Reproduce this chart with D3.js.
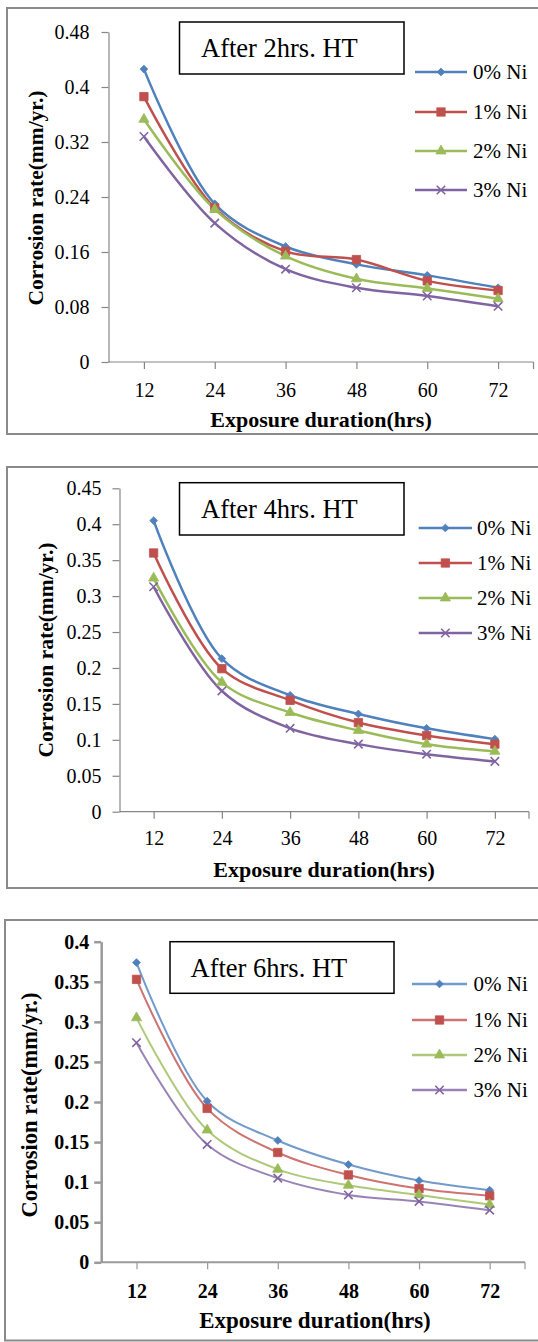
<!DOCTYPE html>
<html>
<head>
<meta charset="utf-8">
<script src="https://cdn.jsdelivr.net/npm/d3@7"></script>
<style>
  body { margin: 0; background: #fff; }
  svg { display: block; }
  text { font-family: "Liberation Serif", "Tinos", "Times New Roman", "DejaVu Serif", serif; fill: #000; }
</style>
</head>
<body>
<svg id="chart" width="538" height="1342"></svg>
<script>
// exposure duration (hrs) on the x axis
const hours = [12, 24, 36, 48, 60, 72];
const seriesNames = ["0% Ni", "1% Ni", "2% Ni", "3% Ni"];
const seriesColors = ["#4F81BD", "#C0504D", "#9BBB59", "#8064A2"];

// corrosion rate (mm/yr.), one row per Ni content
const rate2hrs = [
  [0.426, 0.230, 0.168, 0.142, 0.126, 0.108],
  [0.386, 0.224, 0.161, 0.149, 0.118, 0.104],
  [0.353, 0.222, 0.154, 0.121, 0.107, 0.092],
  [0.328, 0.202, 0.135, 0.108, 0.096, 0.081]
];
const rate4hrs = [
  [0.405, 0.213, 0.162, 0.136, 0.116, 0.101],
  [0.360, 0.199, 0.155, 0.124, 0.106, 0.094],
  [0.325, 0.180, 0.138, 0.113, 0.094, 0.084],
  [0.313, 0.168, 0.116, 0.094, 0.080, 0.070]
];
const rate6hrs = [
  [0.374, 0.201, 0.152, 0.122, 0.102, 0.090],
  [0.353, 0.192, 0.137, 0.109, 0.092, 0.083],
  [0.305, 0.165, 0.116, 0.096, 0.084, 0.072],
  [0.274, 0.147, 0.105, 0.084, 0.076, 0.065]
];

const yTicks2hrs = [0, 0.08, 0.16, 0.24, 0.32, 0.4, 0.48];
const yTicks4hrs = [0, 0.05, 0.1, 0.15, 0.2, 0.25, 0.3, 0.35, 0.4, 0.45];
const yTicks6hrs = [0, 0.05, 0.1, 0.15, 0.2, 0.25, 0.3, 0.35, 0.4];
const titles = ["After 2hrs. HT", "After 4hrs. HT", "After 6hrs. HT"];

const FONT = '"Liberation Serif", "Tinos", "Times New Roman", "DejaVu Serif", serif';
const svg = d3.select("#chart");

// layout of the three stacked panels (pixels)
const panels = [
  {
    data: rate2hrs, ticks: yTicks2hrs, title: titles[0],
    frame: { x: 7, y: 8, bottom: 434 },
    plot: { left: 108.5, right: 533.5, top: 32, bottom: 362 },
    yTitle: [36, 198], xTitle: [321, 427], xLabelY: 397, yLabelGap: 19,
    box: { x: 179.5, y: 22, w: 224.5, h: 52 }, boxText: [201, 57],
    legend: { x0: 415, x1: 467, tx: 473, ys: [72, 112, 151, 190] },
    titleSize: 21.5, blurry: false
  },
  {
    data: rate4hrs, ticks: yTicks4hrs, title: titles[1],
    frame: { x: 7, y: 467, bottom: 888 },
    plot: { left: 119.5, right: 529, top: 488.3, bottom: 811.7 },
    yTitle: [46, 650], xTitle: [324, 877], xLabelY: 845, yLabelGap: 18,
    box: { x: 179.5, y: 482.7, w: 224.5, h: 52.3 }, boxText: [201, 518],
    legend: { x0: 418.7, x1: 472, tx: 477, ys: [528, 563, 598, 633] },
    titleSize: 21.5, blurry: false
  },
  {
    data: rate6hrs, ticks: yTicks6hrs, title: titles[2],
    frame: { x: 5, y: 920, bottom: 1340.5 },
    plot: { left: 101.2, right: 525, top: 941.7, bottom: 1262.3 },
    yTitle: [29, 1105], xTitle: [315, 1328], xLabelY: 1298, yLabelGap: 12,
    box: { x: 170, y: 941.7, w: 224, h: 51.6 }, boxText: [190.5, 977],
    legend: { x0: 412, x1: 467, tx: 473.6, ys: [984, 1020, 1055, 1090] },
    titleSize: 22.5, blurry: true
  }
];

function markerPath(i, size) {
  const types = [d3.symbolSquare, d3.symbolSquare, d3.symbolTriangle, d3.symbolTimes];
  return d3.symbol().type(types[i]).size(size)();
}
const markerSizes = [30, 70, 45, 48];

function drawMarker(g, i, x, y, color) {
  const m = g.append("path")
    .attr("d", markerPath(i, markerSizes[i]))
    .attr("transform", `translate(${x},${y})` + (i === 0 ? " rotate(45)" : ""));
  if (i === 3) {
    m.attr("fill", "none").attr("stroke", color).attr("stroke-width", 1.6);
  } else {
    m.attr("fill", color).attr("stroke", color).attr("stroke-width", 0.8);
  }
}

panels.forEach((p) => {
  const g = svg.append("g");
  const axisColor = p.blurry ? "#9a9a9a" : "#868686";
  const labelColor = p.blurry ? "#2a1a10" : "#1a1a1a";

  // outer frame, its right edge runs off the picture
  g.append("rect")
    .attr("x", p.frame.x).attr("y", p.frame.y)
    .attr("width", 600).attr("height", p.frame.bottom - p.frame.y)
    .attr("fill", "none").attr("stroke", "#8a8a8a").attr("stroke-width", 2);

  const x = d3.scaleBand().domain(hours).range([p.plot.left, p.plot.right]);
  const cx = (h) => x(h) + x.bandwidth() / 2;
  const y = d3.scaleLinear()
    .domain([0, d3.max(p.ticks)])
    .range([p.plot.bottom, p.plot.top]);

  // y axis
  const yAxis = g.append("g")
    .attr("transform", `translate(${p.plot.left},0)`)
    .call(d3.axisLeft(y).tickValues(p.ticks).tickSize(7).tickSizeOuter(0)
      .tickFormat((d) => String(d)).tickPadding(p.yLabelGap - 7));
  yAxis.attr("font-family", FONT);
  yAxis.selectAll("path, line").attr("stroke", axisColor)
    .attr("stroke-width", p.blurry ? 2.5 : 1.2);
  yAxis.selectAll("text")
    .attr("font-family", FONT)
    .attr("font-size", 20)
    .attr("font-weight", p.blurry ? "bold" : "normal")
    .attr("fill", labelColor);

  // x axis, ticks sit under each category
  const xAxisScale = d3.scalePoint().domain(hours)
    .range([cx(hours[0]), cx(hours[hours.length - 1])]);
  const xAxis = g.append("g")
    .attr("transform", `translate(0,${p.plot.bottom})`);
  xAxis.append("line")
    .attr("x1", p.plot.left).attr("x2", p.plot.right)
    .attr("stroke", axisColor).attr("stroke-width", p.blurry ? 2 : 1.2);
  xAxis.append("line")
    .attr("x1", p.plot.right).attr("x2", p.plot.right)
    .attr("y1", 0).attr("y2", 7)
    .attr("stroke", axisColor).attr("stroke-width", 1.2);
  const inner = xAxis.append("g")
    .call(d3.axisBottom(xAxisScale).tickSize(7).tickSizeOuter(0));
  inner.attr("font-family", FONT);
  inner.select(".domain").remove();
  inner.selectAll("line").attr("stroke", axisColor).attr("stroke-width", 1.2);
  inner.selectAll("text")
    .attr("y", p.xLabelY - p.plot.bottom).attr("dy", null)
    .attr("font-family", FONT)
    .attr("font-size", 20)
    .attr("font-weight", p.blurry ? "bold" : "normal")
    .attr("fill", labelColor);

  // axis titles
  g.append("text")
    .attr("transform", `translate(${p.yTitle[0]},${p.yTitle[1]}) rotate(-90)`)
    .attr("text-anchor", "middle")
    .attr("dominant-baseline", "central")
    .attr("font-family", FONT)
    .attr("font-size", p.titleSize).attr("font-weight", "bold")
    .text("Corrosion rate(mm/yr.)");
  g.append("text")
    .attr("x", p.xTitle[0]).attr("y", p.xTitle[1])
    .attr("text-anchor", "middle")
    .attr("font-family", FONT)
    .attr("font-size", p.titleSize + 0.5).attr("font-weight", "bold")
    .text("Exposure duration(hrs)");

  // smoothed series lines and markers
  const line = d3.line()
    .x((d, i) => cx(hours[i]))
    .y((d) => y(d))
    .curve(d3.curveCatmullRom.alpha(0.5));

  p.data.forEach((vals, si) => {
    g.append("path")
      .datum(vals)
      .attr("fill", "none")
      .attr("stroke", seriesColors[si])
      .attr("stroke-opacity", p.blurry ? 0.8 : 1)
      .attr("stroke-width", p.blurry ? 2 : 2.5)
      .attr("d", line);
  });
  p.data.forEach((vals, si) => {
    vals.forEach((v, i) => drawMarker(g, si, cx(hours[i]), y(v), seriesColors[si]));
  });

  // title box
  g.append("rect")
    .attr("x", p.box.x).attr("y", p.box.y)
    .attr("width", p.box.w).attr("height", p.box.h)
    .attr("fill", "#fff").attr("stroke", "#000").attr("stroke-width", 1.5);
  g.append("text")
    .attr("x", p.boxText[0]).attr("y", p.boxText[1])
    .attr("font-family", FONT)
    .attr("font-size", 26.5)
    .text(p.title);

  // legend
  seriesNames.forEach((name, si) => {
    const ly = p.legend.ys[si];
    g.append("line")
      .attr("x1", p.legend.x0).attr("x2", p.legend.x1)
      .attr("y1", ly).attr("y2", ly)
      .attr("stroke", seriesColors[si])
      .attr("stroke-opacity", p.blurry ? 0.8 : 1)
      .attr("stroke-width", 2.5);
    drawMarker(g, si, (p.legend.x0 + p.legend.x1) / 2, ly, seriesColors[si]);
    g.append("text")
      .attr("x", p.legend.tx).attr("y", ly)
      .attr("dy", "0.33em")
      .attr("font-family", FONT)
      .attr("font-size", 21)
      .text(name);
  });
});
</script>
</body>
</html>
